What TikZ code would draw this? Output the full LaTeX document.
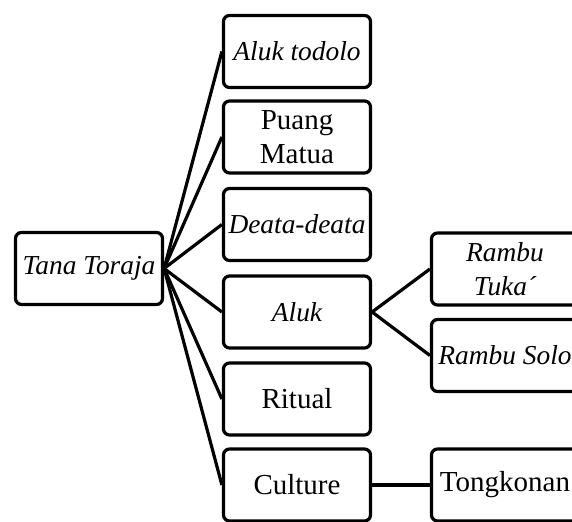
\documentclass[tikz,border=0pt]{standalone}
\usepackage{fontspec}
\setmainfont{Liberation Serif}
\usepackage{tikz}

\begin{document}
\begin{tikzpicture}[x=0.5pt,y=-0.5pt]
	\tikzset{box/.style={draw=black, line width=1.6pt, rounded corners=3pt, minimum width=73.5pt, minimum height=36pt, inner sep=1pt, align=center, font=\fontsize{14.5}{17}\selectfont}}
	\tikzset{ital/.style={box, font=\fontsize{13.7}{17}\selectfont\itshape}}
	\tikzset{link/.style={line width=1.6pt}}

	\clip (0,0) rectangle (572,522);

	\node[ital] (tana) at (89,268.5) {Tana Toraja};

	\node[ital] (todolo) at (297,51.5) {Aluk todolo};
	\node[box] (puang) at (297,137) {Puang\\Matua};
	\node[ital] (deata) at (297,224.5) {Deata-deata};
	\node[ital] (aluk) at (297,312) {Aluk};
	\node[box] (ritual) at (297,399) {Ritual};
	\node[box] (culture) at (297,485) {Culture};

	\node[ital] (tuka) at (505,269) {Rambu\\Tuka´};
	\node[ital] (solo) at (505,355.5) {Rambu Solo};
	\node[box] (tongkonan) at (505,485) {Tongkonan};

	\foreach \n in {todolo,puang,deata,aluk,ritual,culture}{
		\draw[link] (tana.east) -- (\n.west);
	}
	\draw[link] (aluk.east) -- (tuka.west);
	\draw[link] (aluk.east) -- (solo.west);
	\draw[link] (culture.east) -- (tongkonan.west);
\end{tikzpicture}
\end{document}
